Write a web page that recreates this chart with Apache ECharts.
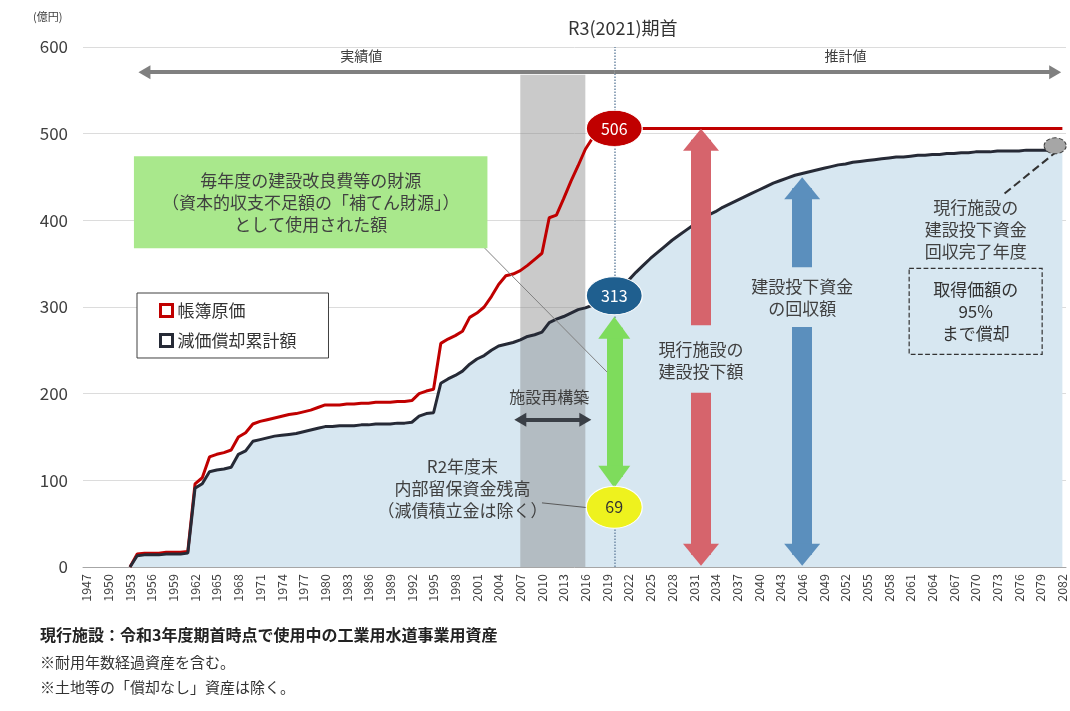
<!DOCTYPE html>
<html>
<head>
<meta charset="utf-8">
<script src="https://cdn.jsdelivr.net/npm/echarts@6/dist/echarts.min.js"></script>
<style>
html,body{margin:0;padding:0;background:#fff;}
#main{width:1070px;height:711px;}
</style>
</head>
<body>
<div id="main"></div>
<script>
// 年度（1947〜2082）
var years = [];
for (var y = 1947; y <= 2082; y++) { years.push(String(y)); }

// 帳簿原価（億円）
var bookValue = [
	null, null, null, null, null, null, 0, 15, 16, 16,
	16, 17, 17, 17, 18, 96, 103, 127, 130, 132,
	135, 150, 155, 165, 168, 170, 172, 174, 176, 177,
	179, 181, 184, 187, 187, 187, 188, 188, 189, 189,
	190, 190, 190, 191, 191, 192, 200, 203, 205, 258,
	263, 267, 272, 288, 293, 300, 312, 326, 336, 338,
	342, 348, 355, 362, 403, 406, 425, 445, 463, 482,
	495, 501, 504, 506,
	506, 506, 506, 506, 506, 506, 506, 506, 506, 506,
	506, 506, 506, 506, 506, 506, 506, 506, 506, 506,
	506, 506, 506, 506, 506, 506, 506, 506, 506, 506,
	506, 506, 506, 506, 506, 506, 506, 506, 506, 506,
	506, 506, 506, 506, 506, 506, 506, 506, 506, 506,
	506, 506, 506, 506, 506, 506, 506, 506, 506, 506,
	506, 506
];
// 減価償却累計額（億円）
var deprec = [
	null, null, null, null, null, null, 0, 13, 14, 14,
	14, 15, 15, 15, 16, 91, 96, 110, 112, 113,
	115, 130, 134, 145, 147, 149, 151, 152, 153, 154,
	156, 158, 160, 162, 162, 163, 163, 163, 164, 164,
	165, 165, 165, 166, 166, 167, 174, 177, 178, 212,
	217, 221, 226, 234, 240, 244, 250, 255, 257, 259,
	262, 266, 268, 271, 282, 286, 289, 293, 297, 299,
	302, 305, 309, 313,
	322, 331, 340, 348, 356, 363, 370, 377, 383, 389,
	395, 400, 406, 410, 415, 419, 423, 427, 431, 435,
	439, 443, 446, 449, 452, 454, 456, 458, 460, 462,
	464, 465, 467, 468, 469, 470, 471, 472, 473, 473,
	474, 475, 475, 476, 476, 477, 477, 478, 478, 479,
	479, 479, 480, 480, 480, 480, 481, 481, 481, 481,
	481, 481
];
// 施設再構築の期間
var rebuildFrom = '2007';
var rebuildTo = '2016';
var rebuildTop = 568;
// R3期首の値
var baseYear = '2020';
var baseBook = 506;
var baseDeprec = 313;
var reserve = 69;

var FONT = '"Noto Sans CJK JP", "Noto Sans", sans-serif';
var ELLIPSE = 'path://M0,50 A50,50 0 1,1 100,50 A50,50 0 1,1 0,50 Z';

/*矢印・引出線*/
function seg(a, b, style, sa, sb, size) {
	return [
		{ coord: a, symbol: sa || 'none', symbolSize: size, lineStyle: style },
		{ coord: b, symbol: sb || 'none', symbolSize: size }
	];
}
/*文字注記*/
function textMark(coord, text, extra) {
	var label = { show: true, position: 'inside', formatter: text, color: '#404040', fontSize: 17, lineHeight: 22, fontFamily: FONT };
	for (var k in extra) { label[k] = extra[k]; }
	return { coord: coord, symbol: 'rect', symbolSize: 1, itemStyle: { color: 'rgba(0,0,0,0)' }, label: label };
}
function ellipse(coord, size, color, textColor) {
	return {
		coord: coord, symbol: ELLIPSE, symbolSize: size,
		itemStyle: { color: color, borderColor: '#fff', borderWidth: 1 },
		label: { show: true, position: 'inside', formatter: String(coord[1]), color: textColor, fontSize: 16, fontFamily: FONT }
	};
}

var redArrow = { color: '#d6646c', width: 20, type: 'solid' };
var blueArrow = { color: '#5b8fbd', width: 20, type: 'solid' };

var myChart = echarts.init(document.getElementById('main'));
var option = {
	animation: false,
	title: {
		text: 'R3(2021)期首', left: 563, top: 14,
		textStyle: { fontSize: 18, fontWeight: 'normal', color: '#333', fontFamily: FONT }
	},
	legend: {
		data: [
			{ name: '帳簿原価', itemStyle: { color: '#fff', borderColor: '#c00000', borderWidth: 3 } },
			{ name: '減価償却累計額', itemStyle: { color: '#fff', borderColor: '#262a36', borderWidth: 3 } }
		],
		orient: 'vertical', left: 137, top: 293,
		icon: 'rect', itemWidth: 12, itemHeight: 12, itemGap: 13,
		padding: [9, 32, 9, 22],
		borderColor: '#404040', borderWidth: 1, backgroundColor: '#fff',
		textStyle: { fontSize: 17, color: '#333', fontFamily: FONT }
	},
	grid: { left: 83, right: 4, top: 47, bottom: 144 },
	xAxis: {
		type: 'category',
		data: years,
		axisTick: { show: false },
		axisLine: { lineStyle: { color: '#a6a6a6', width: 1 } },
		axisLabel: { interval: 2, rotate: 90, fontSize: 12.5, color: '#404040', margin: 7, fontFamily: FONT }
	},
	yAxis: {
		type: 'value',
		min: 0, max: 600, interval: 100,
		axisLine: { show: false },
		axisTick: { show: false },
		axisLabel: { fontSize: 17, color: '#404040', margin: 15, fontFamily: FONT },
		splitLine: { lineStyle: { color: '#dcdcdc', width: 1 } }
	},
	graphic: [
		{ type: 'text', left: 33, top: 11, style: { text: '(億円)', font: '11px ' + FONT, fill: '#404040' } },
		{ type: 'text', left: 40, top: 627, style: { text: '現行施設：令和3年度期首時点で使用中の工業用水道事業用資産', font: 'bold 16px ' + FONT, fill: '#222' } },
		{ type: 'text', left: 40, top: 655, style: { text: '※耐用年数経過資産を含む。', font: '15px ' + FONT, fill: '#333' } },
		{ type: 'text', left: 40, top: 680, style: { text: '※土地等の「償却なし」資産は除く。', font: '15px ' + FONT, fill: '#333' } }
	],
	series: [
		{
			name: 'area', type: 'line', data: deprec, symbol: 'none', silent: true, z: 1,
			lineStyle: { width: 0 },
			areaStyle: { color: '#d7e7f1', opacity: 1 }
		},
		{
			// 施設再構築の期間
			name: 'band', type: 'line', data: [], silent: true, z: 2,
			markArea: {
				silent: true, z: 2,
				itemStyle: { color: 'rgba(128,128,128,0.42)' },
				data: [[{ coord: [rebuildFrom, 0] }, { coord: [rebuildTo, rebuildTop] }]]
			}
		},
		{
			name: '帳簿原価', type: 'line', data: bookValue, symbol: 'none', z: 3,
			lineStyle: { color: '#c00000', width: 3 },
			itemStyle: { color: '#c00000' }
		},
		{
			name: '減価償却累計額', type: 'line', data: deprec, symbol: 'none', z: 3,
			lineStyle: { color: '#262a36', width: 3 },
			itemStyle: { color: '#262a36' }
		},
		{
			name: 'notes', type: 'line', data: [], z: 4, silent: true,
			markLine: {
				silent: true, animation: false,
				symbol: ['none', 'none'],
				label: { show: false },
				data: [
					seg([baseYear, 0], [baseYear, 600], { color: '#6f8aa6', width: 1.5, type: 'dotted' }),
					seg(['1955', 571], [baseYear, 571], { color: '#808080', width: 4, type: 'solid' }, 'triangle', 'none', [14, 12]),
					seg([baseYear, 571], ['2081', 571], { color: '#808080', width: 4, type: 'solid' }, 'none', 'triangle', [14, 12]),
					seg(['2007', 170], ['2016', 170], { color: '#3a3f46', width: 4, type: 'solid' }, 'triangle', 'triangle', [14, 12]),
					seg(['2032', 279], ['2032', 493], redArrow, 'none', 'triangle', [36, 22]),
					seg(['2032', 201], ['2032', 14], redArrow, 'none', 'triangle', [36, 22]),
					seg(['2046', 346], ['2046', 437], blueArrow, 'none', 'triangle', [36, 22]),
					seg(['2046', 277], ['2046', 14], blueArrow, 'none', 'triangle', [36, 22]),
					seg([baseYear, 276], [baseYear, 104], { color: '#7edc5c', width: 16, type: 'solid' }, 'triangle', 'triangle', [32, 22]),
					seg(['2001', 377], ['2019', 225], { color: '#808080', width: 1, type: 'solid' }),
					seg(['2010', 74], ['2018', 67], { color: '#595959', width: 1, type: 'solid' }),
					seg(['2074', 431], ['2081', 478], { color: '#333', width: 2, type: 'dashed' })
				]
			}
		},
		{
			name: 'labels', type: 'line', data: [], z: 6, silent: true,
			markPoint: {
				silent: true, animation: false,
				data: [
					ellipse([baseYear, baseBook], [56, 36], '#c00000', '#fff'),
					ellipse([baseYear, baseDeprec], [56, 38], '#1f5f8f', '#fff'),
					ellipse([baseYear, reserve], [56, 42], '#eef21e', '#333'),
					{
						coord: ['2081', 486], symbol: ELLIPSE, symbolSize: [22, 16],
						itemStyle: { color: '#a6a6a6', borderColor: '#404040', borderWidth: 1, borderType: 'dashed' },
						label: { show: false }
					},
					textMark(['1985', 590], '実績値', { fontSize: 14 }),
					textMark(['2052', 590], '推計値', { fontSize: 14 }),
					textMark(['2011', 196], '施設再構築', { fontSize: 16 }),
					textMark(['1999', 91], 'R2年度末\n内部留保資金残高\n（減債積立金は除く）'),
					textMark(['2032', 238], '現行施設の\n建設投下額'),
					textMark(['2046', 311], '建設投下資金\nの回収額'),
					textMark(['2070', 389], '現行施設の\n建設投下資金\n回収完了年度'),
					textMark(['2070', 295], '取得価額の\n95%\nまで償却', {
						padding: [10, 24, 10, 24], borderColor: '#333', borderWidth: 1.2, borderType: 'dashed', color: '#333'
					}),
					textMark(['1978', 421], '毎年度の建設改良費等の財源\n（資本的収支不足額の「補てん財源」）\nとして使用された額', {
						backgroundColor: '#a9e88c', padding: [13, 28, 13, 28]
					})
				]
			}
		}
	]
};
myChart.setOption(option);
</script>
</body>
</html>
